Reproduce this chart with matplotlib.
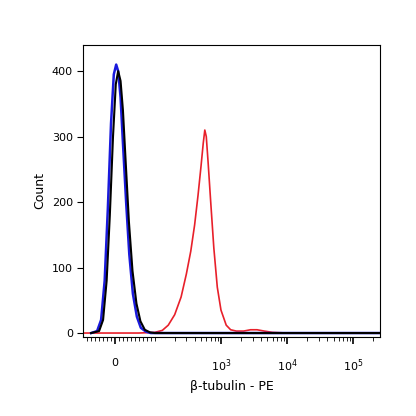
import matplotlib
matplotlib.use("Agg")
import matplotlib.pyplot as plt

blue_x = [-60, -45, -35, -26, -18, -10, -3, 3, 8, 14, 20, 28, 36, 45, 55, 65, 78, 90, 1e3, 3e5]
blue_y = [0, 3, 20, 80, 190, 320, 395, 410, 400, 360, 290, 200, 120, 60, 25, 8, 2, 0, 0, 0]
black_x = [-60, -40, -30, -21, -13, -5, 2, 8, 14, 20, 27, 35, 44, 54, 64, 75, 88, 100, 1e3, 3e5]
black_y = [0, 3, 20, 80, 180, 300, 380, 400, 385, 340, 260, 170, 95, 45, 18, 5, 1, 0, 0, 0]
red_x = [-80, 60, 100, 130, 160, 200, 250, 300, 350, 400, 450, 500, 540, 570, 600, 640, 700, 780, 880, 1000, 1200, 1400, 1700, 2200, 2800, 3500, 4500, 6000, 1e4, 3e5]
red_y = [0, 0, 1, 4, 12, 28, 55, 90, 125, 165, 210, 255, 290, 310, 300, 260, 200, 130, 70, 35, 12, 5, 3, 3, 5, 5, 3, 1, 0, 0]

fig = plt.figure(figsize=(4.16, 4.16), dpi=100)
ax = fig.add_axes([0.2, 0.19, 0.713, 0.702])
ax.plot(red_x, red_y, color="#e8202a", lw=1.2)
ax.plot(blue_x, blue_y, color="#1a1adc", lw=1.8)
ax.plot(black_x, black_y, color="black", lw=1.5)
ax.set_xscale("symlog", linthresh=100, linscale=0.54)
ax.set_xlim(-80, 2.5e5)
ax.set_ylim(-6, 440)
ax.set_xticks([0, 1e3, 1e4, 1e5])
ax.set_xticklabels(["0", "$10^3$", "$10^4$", "$10^5$"], fontsize=8)
minors = list(range(-70, 0, 10)) + list(range(10, 100, 10)) + [100, 200, 300, 400, 500, 600, 700, 800, 900] + \
    [k * 1e3 for k in range(2, 10)] + [k * 1e4 for k in range(2, 10)] + [2e5]
ax.set_xticks(minors, minor=True)
ax.set_yticks([0, 100, 200, 300, 400])
ax.tick_params(axis="y", labelsize=8, length=4)
ax.tick_params(axis="x", which="major", length=5, width=1.2, pad=10)
ax.tick_params(axis="x", which="minor", length=3)
ax.set_xlabel("β-tubulin - PE", fontsize=9)
ax.set_ylabel("Count", fontsize=9)
fig.savefig("out.png", dpi=100)
